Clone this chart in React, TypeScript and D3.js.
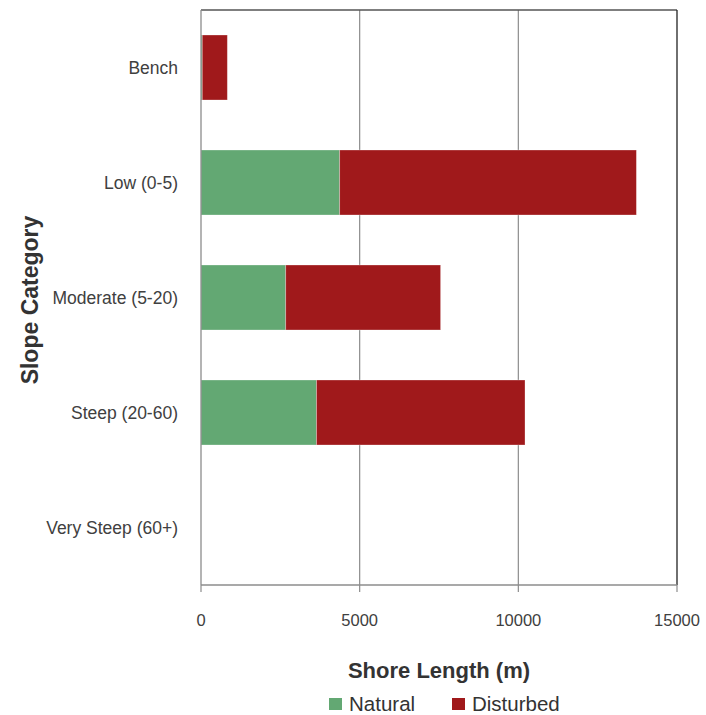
import React, { useEffect, useRef } from 'react';
import * as d3 from 'd3';

// slope categories top to bottom
const categories = ['Bench', 'Low (0-5)', 'Moderate (5-20)', 'Steep (20-60)', 'Very Steep (60+)'];
const natural = [40, 4370, 2670, 3640, 0];
const disturbed = [790, 9350, 4880, 6570, 0];
const seriesNames = ['Natural', 'Disturbed'];
const seriesColors = ['#63A873', '#A0191B'];
const xTicks = [0, 5000, 10000, 15000];

const App: React.FC = () => {
  const svgRef = useRef<SVGSVGElement>(null);

  useEffect(() => {
    if (!svgRef.current) return;
    const svg = d3.select(svgRef.current);
    svg.selectAll('*').remove();

    const left = 201, right = 677, top = 10, bottom = 585;
    const font = 'Liberation Sans, Arial, sans-serif';

    const x = d3.scaleLinear().domain([0, 15000]).range([left, right]);
    const y = d3.scaleBand<string>().domain(categories).range([top, bottom]).paddingInner(0.435).paddingOuter(0.2175);

    const rows = categories.map((c, i) => ({ cat: c, Natural: natural[i], Disturbed: disturbed[i] }));
    const stacked = d3.stack<any>().keys(seriesNames)(rows);

    // gridlines
    svg.append('g')
      .selectAll('line')
      .data(xTicks.slice(1, -1))
      .join('line')
      .attr('x1', d => x(d)).attr('x2', d => x(d))
      .attr('y1', top).attr('y2', bottom)
      .attr('stroke', '#8c8c8c').attr('stroke-width', 1.2);

    // frame top and right
    svg.append('line').attr('x1', left).attr('x2', right).attr('y1', top).attr('y2', top)
      .attr('stroke', '#555').attr('stroke-width', 1.3);
    svg.append('line').attr('x1', right).attr('x2', right).attr('y1', top).attr('y2', bottom)
      .attr('stroke', '#222').attr('stroke-width', 1.3);

    // bars
    svg.append('g')
      .selectAll('g')
      .data(stacked)
      .join('g')
      .attr('fill', (_, i) => seriesColors[i])
      .selectAll('rect')
      .data(d => d.map(s => ({ s, cat: s.data.cat })))
      .join('rect')
      .attr('x', d => x(d.s[0]))
      .attr('y', d => y(d.cat)!)
      .attr('width', d => Math.max(0, x(d.s[1]) - x(d.s[0])))
      .attr('height', y.bandwidth())
      .attr('stroke', 'rgba(255,255,255,0.35)')
      .attr('stroke-width', 0.8);

    // left axis line
    svg.append('line').attr('x1', left).attr('x2', left).attr('y1', top).attr('y2', bottom)
      .attr('stroke', '#8c8c8c').attr('stroke-width', 1.3);

    // bottom axis
    svg.append('line').attr('x1', left).attr('x2', right).attr('y1', bottom).attr('y2', bottom)
      .attr('stroke', '#8c8c8c').attr('stroke-width', 1.3);
    svg.append('g')
      .selectAll('line')
      .data(xTicks)
      .join('line')
      .attr('x1', d => x(d)).attr('x2', d => x(d))
      .attr('y1', bottom).attr('y2', bottom + 7)
      .attr('stroke', '#8c8c8c').attr('stroke-width', 1.2);
    svg.append('g')
      .selectAll('text')
      .data(xTicks)
      .join('text')
      .attr('x', d => x(d))
      .attr('y', 626)
      .attr('text-anchor', 'middle')
      .attr('font-family', font)
      .attr('font-size', 16.5)
      .attr('fill', '#404040')
      .text(d => String(d));

    // category labels
    svg.append('g')
      .selectAll('text')
      .data(categories)
      .join('text')
      .attr('x', 178)
      .attr('y', d => y(d)! + y.bandwidth() / 2 + 6)
      .attr('text-anchor', 'end')
      .attr('font-family', font)
      .attr('font-size', 17.5)
      .attr('fill', '#404040')
      .text(d => d);

    // axis titles
    svg.append('text')
      .attr('x', (left + right) / 2)
      .attr('y', 678)
      .attr('text-anchor', 'middle')
      .attr('font-family', font)
      .attr('font-weight', 'bold')
      .attr('font-size', 22)
      .attr('fill', '#333')
      .text('Shore Length (m)');
    svg.append('text')
      .attr('transform', 'translate(38,300) rotate(-90)')
      .attr('text-anchor', 'middle')
      .attr('font-family', font)
      .attr('font-weight', 'bold')
      .attr('font-size', 23)
      .attr('fill', '#333')
      .text('Slope Category');

    // legend
    const legendX = [329, 452];
    const lg = svg.append('g')
      .selectAll('g')
      .data(seriesNames)
      .join('g')
      .attr('transform', (_, i) => `translate(${legendX[i]},698)`);
    lg.append('rect').attr('width', 13).attr('height', 12).attr('fill', (_, i) => seriesColors[i]);
    lg.append('text')
      .attr('x', 20).attr('y', 13)
      .attr('font-family', font)
      .attr('font-size', 20.5)
      .attr('fill', '#333')
      .text(d => d);
  }, []);

  return (
    <svg ref={svgRef} width={706} height={715}
      style={{ position: 'absolute', left: 0, top: 0, background: '#fff' }} />
  );
};

export default App;
